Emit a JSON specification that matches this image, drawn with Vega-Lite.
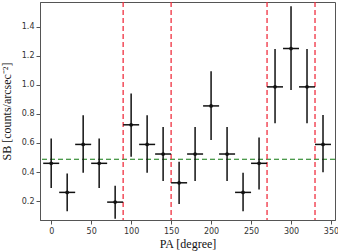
{
  "$schema": "https://vega.github.io/schema/vega-lite/v6.json",
  "width": 295,
  "height": 218,
  "autosize": "none",
  "padding": {"left": 40, "top": 2, "right": 3, "bottom": 32},
  "background": "white",
  "config": {
    "view": {"stroke": "#555", "strokeWidth": 1},
    "axis": {
      "grid": false,
      "domainColor": "#555",
      "tickColor": "#555",
      "tickSize": 4,
      "labelColor": "#333",
      "labelFont": "DejaVu Sans",
      "labelFontSize": 8,
      "labelFlush": false,
      "titleFont": "Liberation Serif",
      "titleFontSize": 12,
      "titleFontWeight": "normal",
      "titleColor": "#111"
    }
  },
  "datasets": {
    "pts": [
      {"pa": 0, "sb": 0.46, "lo": 0.29, "hi": 0.63, "xlo": -10, "xhi": 10},
      {"pa": 20, "sb": 0.26, "lo": 0.13, "hi": 0.39, "xlo": 10, "xhi": 30},
      {"pa": 40, "sb": 0.59, "lo": 0.395, "hi": 0.79, "xlo": 30, "xhi": 50},
      {"pa": 60, "sb": 0.46, "lo": 0.29, "hi": 0.63, "xlo": 50, "xhi": 70},
      {"pa": 80, "sb": 0.193, "lo": 0.078, "hi": 0.305, "xlo": 70, "xhi": 90},
      {"pa": 100, "sb": 0.725, "lo": 0.505, "hi": 0.94, "xlo": 90, "xhi": 110},
      {"pa": 120, "sb": 0.59, "lo": 0.395, "hi": 0.79, "xlo": 110, "xhi": 130},
      {"pa": 140, "sb": 0.524, "lo": 0.338, "hi": 0.71, "xlo": 130, "xhi": 150},
      {"pa": 160, "sb": 0.326, "lo": 0.18, "hi": 0.47, "xlo": 150, "xhi": 170},
      {"pa": 180, "sb": 0.524, "lo": 0.338, "hi": 0.71, "xlo": 170, "xhi": 190},
      {"pa": 200, "sb": 0.855, "lo": 0.62, "hi": 1.094, "xlo": 190, "xhi": 210},
      {"pa": 220, "sb": 0.524, "lo": 0.338, "hi": 0.71, "xlo": 210, "xhi": 230},
      {"pa": 240, "sb": 0.26, "lo": 0.13, "hi": 0.395, "xlo": 230, "xhi": 250},
      {"pa": 260, "sb": 0.46, "lo": 0.28, "hi": 0.637, "xlo": 250, "xhi": 270},
      {"pa": 280, "sb": 0.986, "lo": 0.736, "hi": 1.246, "xlo": 270, "xhi": 290},
      {"pa": 300, "sb": 1.25, "lo": 0.965, "hi": 1.54, "xlo": 290, "xhi": 310},
      {"pa": 320, "sb": 0.986, "lo": 0.736, "hi": 1.246, "xlo": 310, "xhi": 330},
      {"pa": 340, "sb": 0.59, "lo": 0.398, "hi": 0.793, "xlo": 330, "xhi": 350}
    ],
    "vlines": [{"pa": 90}, {"pa": 150}, {"pa": 270}, {"pa": 330}],
    "hline": [{"sb": 0.488}]
  },
  "layer": [
    {
      "data": {"name": "hline"},
      "mark": {"type": "rule", "color": "#117a11", "strokeDash": [5, 3], "strokeWidth": 1.2},
      "encoding": {"y": {"field": "sb", "type": "quantitative", "scale": {"domain": [0.07, 1.57], "nice": false, "zero": false},
        "axis": {"title": "SB [counts/arcsec⁻²]", "tickCount": 8, "format": ".1f", "titlePadding": 8, "labelOverlap": false, "labelSeparation": 0}}}
    },
    {
      "data": {"name": "vlines"},
      "mark": {"type": "rule", "color": "#f03040", "strokeDash": [5, 3], "strokeWidth": 1.3},
      "encoding": {"x": {"field": "pa", "type": "quantitative", "scale": {"domain": [-14, 355], "nice": false, "zero": false},
        "axis": {"title": "PA [degree]", "values": [0, 50, 100, 150, 200, 250, 300, 350], "titlePadding": 3, "labelPadding": 3, "labelOverlap": false, "labelBound": false}}}
    },
    {
      "data": {"name": "pts"},
      "mark": {"type": "rule", "color": "#111", "strokeWidth": 1.5},
      "encoding": {
        "x": {"field": "pa", "type": "quantitative"},
        "y": {"field": "lo", "type": "quantitative"},
        "y2": {"field": "hi"}
      }
    },
    {
      "data": {"name": "pts"},
      "mark": {"type": "rule", "color": "#111", "strokeWidth": 1.5},
      "encoding": {
        "x": {"field": "xlo", "type": "quantitative"},
        "x2": {"field": "xhi"},
        "y": {"field": "sb", "type": "quantitative"}
      }
    },
    {
      "data": {"name": "pts"},
      "mark": {"type": "point", "filled": true, "color": "#111", "size": 14, "opacity": 1},
      "encoding": {
        "x": {"field": "pa", "type": "quantitative"},
        "y": {"field": "sb", "type": "quantitative"}
      }
    }
  ]
}
